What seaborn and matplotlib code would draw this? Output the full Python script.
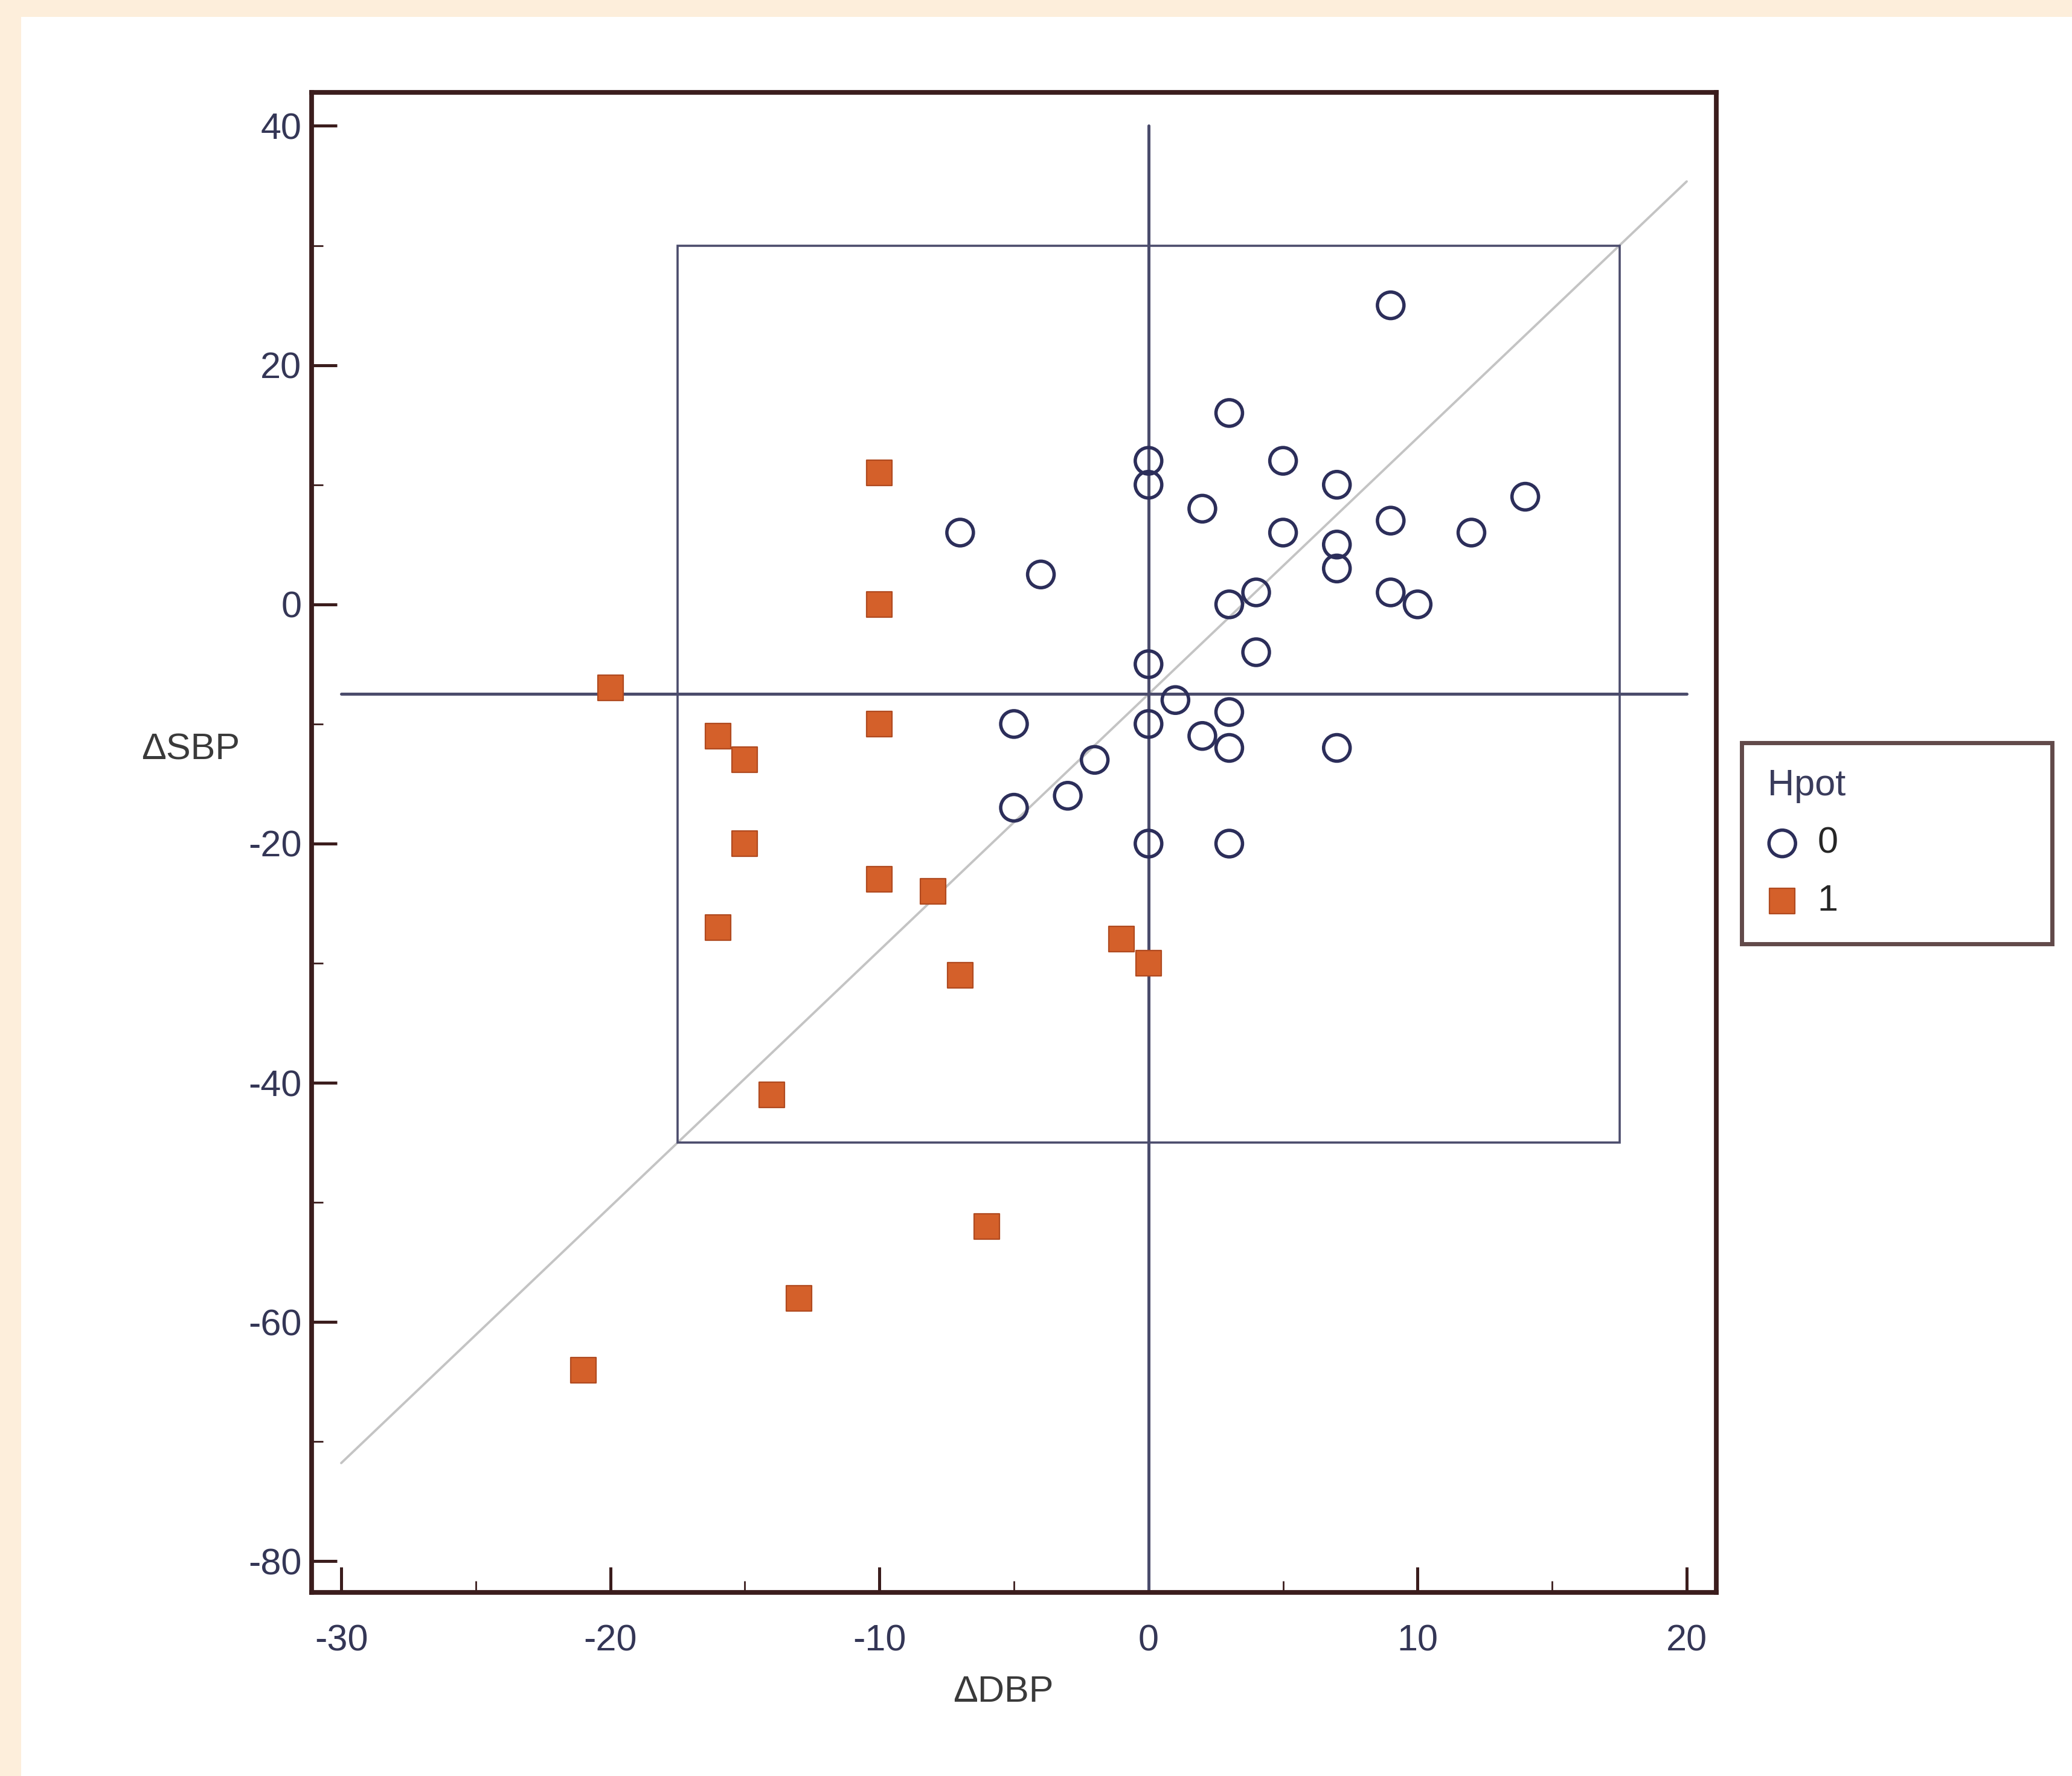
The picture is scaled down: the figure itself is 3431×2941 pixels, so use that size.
import matplotlib
matplotlib.use("Agg")
import numpy as np
import pandas as pd
import matplotlib.pyplot as plt
from matplotlib.patches import Rectangle
from matplotlib.ticker import MultipleLocator
import seaborn as sns

# Hpot = 0 (open circles)
DBP_0 = [9, 3, 0, 0, 5, 7, 2, 14, 9, -7, 5, 12, 7, 7, -4, 4, 3,
         9, 10, 4, 0, 1, 3, 0, -5, 2, 3, 7, -2, -3, -5, 0, 3]
SBP_0 = [25, 16, 12, 10, 12, 10, 8, 9, 7, 6, 6, 6, 5, 3, 2.5, 1, 0,
         1, 0, -4, -5, -8, -9, -10, -10, -11, -12, -12, -13, -16, -17, -20, -20]

# Hpot = 1 (filled squares)
DBP_1 = [-10, -10, -20, -10, -16, -15, -15, -10, -8, -16, -1, 0, -7, -14, -6, -13, -21]
SBP_1 = [11, 0, -7, -10, -11, -13, -20, -23, -24, -27, -28, -30, -31, -41, -52, -58, -64]

X_TICKS = [-30, -20, -10, 0, 10, 20]
Y_TICKS = [40, 20, 0, -20, -40, -60, -80]
XLIM = (-31.1, 21.1)
YLIM = (-82.6, 42.8)

# reference cross, box and diagonal
REF_X = 0
REF_Y = -7.5
BOX_HALF_W = 17.5
BOX_HALF_H = 37.5

CREAM   = "#fdeedb"
FRAME   = "#3b1d1d"
NAVY    = "#2c2e5a"
ORANGE  = "#d4602a"
LINE    = "#4b4c6c"
TICKTXT = "#343656"

sns.set_theme(style="white")
plt.rcParams["font.family"] = ["Liberation Sans", "DejaVu Sans"]
plt.rcParams["axes.unicode_minus"] = False

df = pd.DataFrame({
    "ΔDBP": DBP_0 + DBP_1,
    "ΔSBP": SBP_0 + SBP_1,
    "Hpot": [0] * len(DBP_0) + [1] * len(DBP_1),
})

W, H = 3431, 2941
fig = plt.figure(figsize=(W / 200, H / 200), dpi=200, facecolor=CREAM)
fig.patches.append(Rectangle((35 / W, 0), 1, 1 - 28 / H, transform=fig.transFigure,
                             facecolor="white", edgecolor="none", zorder=-10))
ax = fig.add_axes([516 / W, 1 - 2637 / H, 2326 / W, 2484 / H])
ax.set_facecolor("white")

# reference lines
ax.plot([REF_X, REF_X], [Y_TICKS[0], YLIM[0]], color=LINE, lw=1.8, zorder=2)
ax.plot([X_TICKS[0], X_TICKS[-1]], [REF_Y, REF_Y], color=LINE, lw=1.8, zorder=2)
ax.add_patch(Rectangle((REF_X - BOX_HALF_W, REF_Y - BOX_HALF_H), 2 * BOX_HALF_W, 2 * BOX_HALF_H,
                       fill=False, edgecolor=LINE, lw=1.3, zorder=2))
xs = np.array([X_TICKS[0], X_TICKS[-1]])
ax.plot(xs, REF_Y + BOX_HALF_H / BOX_HALF_W * (xs - REF_X), color="#c4c4c4", lw=1.4, zorder=1)

sns.scatterplot(data=df[df["Hpot"] == 0], x="ΔDBP", y="ΔSBP", marker="o", s=250,
                color=NAVY, facecolor="none", edgecolor=NAVY, linewidth=2.0,
                label="0", ax=ax, zorder=4)
sns.scatterplot(data=df[df["Hpot"] == 1], x="ΔDBP", y="ΔSBP", marker="s", s=225,
                color=ORANGE, edgecolor="#b04a20", linewidth=0.8,
                label="1", ax=ax, zorder=4)

ax.set_xlim(*XLIM)
ax.set_ylim(*YLIM)
ax.set_xticks(X_TICKS)
ax.set_yticks(Y_TICKS)
ax.xaxis.set_minor_locator(MultipleLocator(5))
ax.yaxis.set_minor_locator(MultipleLocator(10))
ax.tick_params(which="major", direction="in", length=15, width=1.8, color=FRAME,
               labelsize=22, labelcolor=TICKTXT)
ax.tick_params(which="minor", direction="in", length=7, width=1.0, color=FRAME)
ax.tick_params(axis="x", which="major", pad=19)
ax.tick_params(axis="y", which="major", pad=6)
ax.tick_params(bottom=True, left=True, which="both")

for sp in ax.spines.values():
    sp.set_visible(True)
    sp.set_color(FRAME)
    sp.set_linewidth(2.8)

ax.set_xlabel("ΔDBP", fontsize=22, color="#3a3a3a", va="top")
ax.xaxis.set_label_coords(0.4923, -0.0552)
ax.set_ylabel("ΔSBP", fontsize=22, color="#3a3a3a", rotation=0, ha="center", va="center")
ax.yaxis.set_label_coords(-0.086, 0.5616)

leg = ax.legend(title="Hpot", loc="upper left",
                bbox_to_anchor=(2884 / W, 1 - 1553 / H, 514 / W, 323 / H),
                bbox_transform=fig.transFigure, mode="expand", borderaxespad=0,
                frameon=True, fancybox=False, alignment="left", handlelength=0.8,
                handletextpad=0.55, labelspacing=0.62, borderpad=0.7,
                fontsize=22, title_fontsize=22)
leg.get_frame().set_edgecolor(FRAME)
leg.get_frame().set_linewidth(2.5)
leg.get_title().set_color("#3a3c5c")
leg._legend_box.sep = 14

fig.savefig("out.png", dpi=200, facecolor=CREAM)
